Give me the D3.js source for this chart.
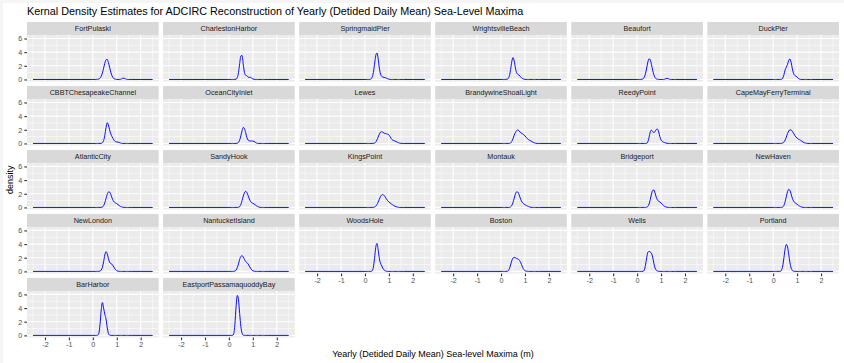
<!DOCTYPE html>
<html>
<head>
<meta charset="utf-8">
<script src="https://cdn.jsdelivr.net/npm/d3@7"></script>
<style>
  body { margin: 0; background: #fff; }
  svg { display: block; }
  text { font-family: "Liberation Sans", Arial, Helvetica, sans-serif; }
</style>
</head>
<body>
<svg id="chart" width="844" height="363"></svg>
<script>
// Tide-gauge stations, in facet order
const stations = [
  "FortPulaski", "CharlestonHarbor", "SpringmaidPier", "WrightsvilleBeach", "Beaufort", "DuckPier",
  "CBBTChesapeakeChannel", "OceanCityInlet", "Lewes", "BrandywineShoalLight", "ReedyPoint", "CapeMayFerryTerminal",
  "AtlanticCity", "SandyHook", "KingsPoint", "Montauk", "Bridgeport", "NewHaven",
  "NewLondon", "NantucketIsland", "WoodsHole", "Boston", "Wells", "Portland",
  "BarHarbor", "EastportPassamaquoddyBay"
];

// Sea-level maxima (m) at which each density is evaluated
const xGrid = [0, 0.05, 0.1, 0.15, 0.2, 0.25, 0.3, 0.35, 0.4, 0.45, 0.5, 0.55, 0.6, 0.65, 0.7, 0.75,
  0.8, 0.85, 0.9, 0.95, 1, 1.05, 1.1, 1.15, 1.2, 1.25, 1.3, 1.35, 1.4, 1.45, 1.5, 1.55, 1.6];
// Density is zero out to the edges of the evaluation range
const xRange = [-2.5, 2.5];

const fortPulaski       = [0,0,0,0.01,0.02,0.07,0.19,0.47,0.96,1.64,2.37,2.88,2.95,2.49,1.79,1.08,0.55,0.24,0.08,0.03,0.01,0,0,0.02,0.08,0.18,0.19,0.1,0.03,0.01,0,0,0];
const charlestonHarbor  = [0,0,0,0,0,0.01,0.05,0.28,1.0,2.33,3.45,3.5,2.2,1.0,0.62,0.55,0.35,0.3,0.32,0.2,0.07,0.02,0,0,0,0,0,0,0,0,0,0,0];
const springmaidPier    = [0,0,0,0,0.01,0.07,0.32,1.0,2.22,3.49,3.87,3.04,1.69,0.8,0.45,0.35,0.3,0.25,0.18,0.1,0.04,0.01,0,0,0,0,0,0,0,0,0,0,0];
const wrightsvilleBeach = [0,0,0,0,0.01,0.04,0.14,0.55,1.46,2.63,3.2,2.7,1.7,1.0,0.75,0.65,0.45,0.25,0.12,0.05,0.02,0,0,0,0,0,0,0,0,0,0,0,0];
const beaufort          = [0,0,0,0,0.02,0.1,0.34,0.85,1.67,2.55,3.04,2.86,2.18,1.36,0.69,0.28,0.09,0.03,0.01,0,0,0,0,0.03,0.11,0.15,0.11,0.03,0,0,0,0,0];
const duckPier          = [0,0,0,0,0,0,0,0.02,0.2,0.7,1.4,1.8,2.2,2.8,3.0,2.5,1.6,0.9,0.6,0.5,0.35,0.15,0.05,0.01,0,0,0,0,0,0,0,0,0];
const cbbtChesapeake    = [0,0,0,0,0,0,0,0.015,0.1,0.41,1.18,2.3,3.03,2.7,2.0,1.4,1.0,0.7,0.4,0.25,0.22,0.2,0.15,0.07,0.02,0,0,0,0,0,0,0,0];
const oceanCityInlet    = [0,0,0,0,0,0,0,0.04,0.16,0.48,1.11,1.88,2.34,2.17,1.57,0.88,0.5,0.38,0.35,0.36,0.35,0.3,0.18,0.06,0.01,0,0,0,0,0,0,0,0];
const lewes             = [0,0,0,0,0,0,0,0.01,0.05,0.2,0.5,0.95,1.35,1.65,1.72,1.62,1.5,1.46,1.42,1.35,1.25,1.0,0.7,0.5,0.42,0.36,0.28,0.18,0.1,0.05,0.02,0,0];
const brandywineShoal   = [0,0,0,0,0,0,0,0.01,0.08,0.3,0.7,1.2,1.6,1.88,1.97,1.85,1.65,1.5,1.4,1.28,1.1,0.9,0.7,0.55,0.45,0.36,0.25,0.15,0.08,0.03,0.01,0,0];
const reedyPoint        = [0,0,0,0,0,0,0,0,0.02,0.25,0.9,1.7,1.95,1.75,1.58,1.75,2.05,2.1,1.7,1.0,0.5,0.3,0.2,0.12,0.06,0.02,0,0,0,0,0,0,0];
const capeMayFerry      = [0,0,0,0,0,0,0,0.01,0.06,0.2,0.5,0.95,1.45,1.82,2.0,1.97,1.78,1.5,1.2,0.95,0.78,0.65,0.55,0.45,0.32,0.2,0.1,0.05,0.02,0,0,0,0];
const atlanticCity      = [0,0,0,0,0,0,0,0.01,0.06,0.25,0.7,1.3,1.9,2.25,2.25,1.9,1.4,1.0,0.78,0.65,0.55,0.42,0.28,0.15,0.07,0.03,0.01,0,0,0,0,0,0];
const sandyHook         = [0,0,0,0,0,0,0,0,0.02,0.12,0.45,1.0,1.65,2.15,2.35,2.2,1.75,1.25,0.9,0.7,0.6,0.5,0.38,0.25,0.14,0.06,0.02,0,0,0,0,0,0];
const kingsPoint        = [0,0,0,0,0,0,0,0.01,0.05,0.18,0.42,0.78,1.2,1.58,1.82,1.88,1.75,1.5,1.22,0.98,0.8,0.65,0.52,0.4,0.28,0.18,0.1,0.05,0.02,0,0,0,0];
const montauk           = [0,0,0,0,0,0,0,0.01,0.08,0.3,0.75,1.35,1.95,2.28,2.25,1.9,1.4,0.95,0.68,0.52,0.4,0.3,0.2,0.12,0.06,0.02,0,0,0,0,0,0,0];
const bridgeport        = [0,0,0,0,0,0,0,0,0.03,0.15,0.5,1.15,1.95,2.5,2.55,2.1,1.5,1.1,0.9,0.8,0.65,0.45,0.28,0.15,0.07,0.03,0,0,0,0,0,0,0];
const newHaven          = [0,0,0,0,0,0,0,0.01,0.06,0.3,0.85,1.6,2.3,2.65,2.5,1.95,1.35,0.95,0.72,0.58,0.45,0.32,0.2,0.1,0.04,0.01,0,0,0,0,0,0,0];
const newLondon         = [0,0,0,0,0,0.01,0.05,0.2,0.6,1.4,2.4,2.9,2.6,1.9,1.35,1.15,1.05,0.8,0.5,0.25,0.1,0.04,0.01,0,0,0,0,0,0,0,0,0,0];
const nantucketIsland   = [0,0,0,0,0.01,0.05,0.2,0.55,1.1,1.75,2.2,2.3,2.1,1.75,1.45,1.3,1.1,0.8,0.5,0.25,0.1,0.04,0.01,0,0,0,0,0,0,0,0,0,0];
const woodsHole         = [0,0,0,0,0,0.01,0.08,0.6,1.9,3.5,4.1,3.2,1.9,1.2,0.8,0.45,0.2,0.07,0.02,0,0,0,0,0,0,0,0,0,0,0,0,0,0];
const boston            = [0,0,0,0,0,0.01,0.1,0.4,0.95,1.55,1.95,2.05,2.0,1.9,1.82,1.7,1.45,1.05,0.6,0.28,0.1,0.03,0.01,0,0,0,0,0,0,0,0,0,0];
const wells             = [0,0,0,0,0,0.02,0.2,0.9,2.0,2.8,2.93,2.85,2.65,2.1,1.2,0.5,0.17,0.05,0.01,0,0,0,0,0,0,0,0,0,0,0,0,0,0];
const portland          = [0,0,0,0,0,0,0.02,0.2,0.8,2.0,3.3,3.95,3.6,2.5,1.3,0.5,0.15,0.03,0,0,0,0,0,0,0,0,0,0,0,0,0,0,0];
const barHarbor         = [0,0,0,0,0.02,0.3,1.6,3.7,4.8,4.0,3.1,2.4,1.2,0.3,0.04,0,0,0,0,0,0,0,0,0,0,0,0,0,0,0,0,0,0];
const eastport          = [0,0,0,0.01,0.2,1.6,4.2,5.85,5.2,3.2,1.3,0.3,0.03,0,0,0,0,0,0,0,0,0,0,0,0,0,0,0,0,0,0,0,0];

const densities = [
  fortPulaski, charlestonHarbor, springmaidPier, wrightsvilleBeach, beaufort, duckPier,
  cbbtChesapeake, oceanCityInlet, lewes, brandywineShoal, reedyPoint, capeMayFerry,
  atlanticCity, sandyHook, kingsPoint, montauk, bridgeport, newHaven,
  newLondon, nantucketIsland, woodsHole, boston, wells, portland,
  barHarbor, eastport
];

// Axis breaks
const xTicks = [-2, -1, 0, 1, 2];
const xMinor = [-2.5, -1.5, -0.5, 0.5, 1.5, 2.5];
const yTicks = [0, 2, 4, 6];
const yMinor = [1, 3, 5];

const titleText = "Kernal Density Estimates for ADCIRC Reconstruction of Yearly (Detided Daily Mean) Sea-Level Maxima";
const xTitle = "Yearly (Detided Daily Mean) Sea-level Maxima (m)";
const yTitle = "density";

densities.forEach((d, i) => {
  if (d.length !== xGrid.length) throw new Error(stations[i] + " has " + d.length + " values");
});

(function draw() {
  const svg = d3.select("#chart");
  const nCol = 6, nRow = 5;
  const areaLeft = 27, areaRight = 839, areaTop = 22, areaBottom = 337.5;
  const gap = 4.4, stripH = 13;
  const pw = (areaRight - areaLeft - gap * (nCol - 1)) / nCol;
  const rh = (areaBottom - areaTop - gap * (nRow - 1)) / nRow;

  // shared scale domains (5% expansion around the data)
  const xDom = [-2.75, 2.75];
  const yDom = [-0.31, 6.51];

  svg.append("rect").attr("width", 844).attr("height", 363).attr("fill", "#fff");
  svg.append("rect").attr("x", 0).attr("y", 0).attr("width", 844).attr("height", 3).attr("fill", "#f5f5f5");
  svg.append("rect").attr("x", 0).attr("y", 0).attr("width", 3).attr("height", 363).attr("fill", "#f5f5f5");

  const line = d3.line().curve(d3.curveMonotoneX);
  const fontFamily = "\"Liberation Sans\", Arial, Helvetica, sans-serif";

  const styleAxis = sel => {
    sel.select(".domain").remove();
    sel.selectAll(".tick line").attr("stroke", "#333333").attr("stroke-width", 1.1);
    sel.selectAll(".tick text").attr("fill", "#4D4D4D").attr("font-size", 7.2).attr("font-family", fontFamily);
  };

  stations.forEach((name, i) => {
    const col = i % nCol, row = Math.floor(i / nCol);
    const x0 = areaLeft + col * (pw + gap);
    const sy = areaTop + row * (rh + gap);
    const py0 = sy + stripH, py1 = sy + rh;

    const x = d3.scaleLinear().domain(xDom).range([x0, x0 + pw]);
    const y = d3.scaleLinear().domain(yDom).range([py1, py0]);

    const g = svg.append("g");

    // facet strip
    g.append("rect").attr("x", x0).attr("y", sy).attr("width", pw).attr("height", stripH).attr("fill", "#D9D9D9");
    g.append("text").attr("x", x0 + pw / 2).attr("y", sy + stripH / 2 + 2.5)
      .attr("text-anchor", "middle").attr("font-size", 7.2).attr("fill", "#1A1A1A").text(name);

    // panel background and grid
    g.append("rect").attr("x", x0).attr("y", py0).attr("width", pw).attr("height", py1 - py0).attr("fill", "#EBEBEB");
    const grid = g.append("g").attr("stroke", "#fff").attr("fill", "none");
    xMinor.forEach(v => grid.append("line").attr("x1", x(v)).attr("x2", x(v)).attr("y1", py0).attr("y2", py1).attr("stroke-width", 0.55));
    yMinor.forEach(v => grid.append("line").attr("x1", x0).attr("x2", x0 + pw).attr("y1", y(v)).attr("y2", y(v)).attr("stroke-width", 0.55));
    xTicks.forEach(v => grid.append("line").attr("x1", x(v)).attr("x2", x(v)).attr("y1", py0).attr("y2", py1).attr("stroke-width", 1.1));
    yTicks.forEach(v => grid.append("line").attr("x1", x0).attr("x2", x0 + pw).attr("y1", y(v)).attr("y2", y(v)).attr("stroke-width", 1.1));

    // density curve
    const pts = [[xRange[0], 0]].concat(xGrid.map((v, k) => [v, densities[i][k]]), [[xRange[1], 0]]);
    g.append("path")
      .attr("d", line(pts.map(p => [x(p[0]), y(p[1])])))
      .attr("fill", "none").attr("stroke", "#0000FF").attr("stroke-width", 0.95);

    // axes
    if (col === 0) {
      g.append("g").attr("transform", `translate(${x0},0)`)
        .call(d3.axisLeft(y).tickValues(yTicks).tickSize(2.7).tickPadding(2).tickFormat(d => String(d)))
        .call(styleAxis);
    }
    const isBottom = row === nRow - 1 || (row === nRow - 2 && i + nCol >= stations.length);
    if (isBottom) {
      g.append("g").attr("transform", `translate(0,${py1})`)
        .call(d3.axisBottom(x).tickValues(xTicks).tickSize(2.7).tickPadding(2).tickFormat(d => String(d)))
        .call(styleAxis);
    }
  });

  // titles
  svg.append("text").attr("x", areaLeft).attr("y", 15).attr("font-size", 10.8).attr("fill", "#000").text(titleText);
  svg.append("text").attr("x", (areaLeft + areaRight) / 2).attr("y", 357).attr("text-anchor", "middle")
    .attr("font-size", 9).attr("fill", "#000").text(xTitle);
  svg.append("text").attr("transform", `translate(13,${(areaTop + areaBottom) / 2}) rotate(-90)`)
    .attr("text-anchor", "middle").attr("font-size", 9).attr("fill", "#000").text(yTitle);
})();
</script>
</body>
</html>
